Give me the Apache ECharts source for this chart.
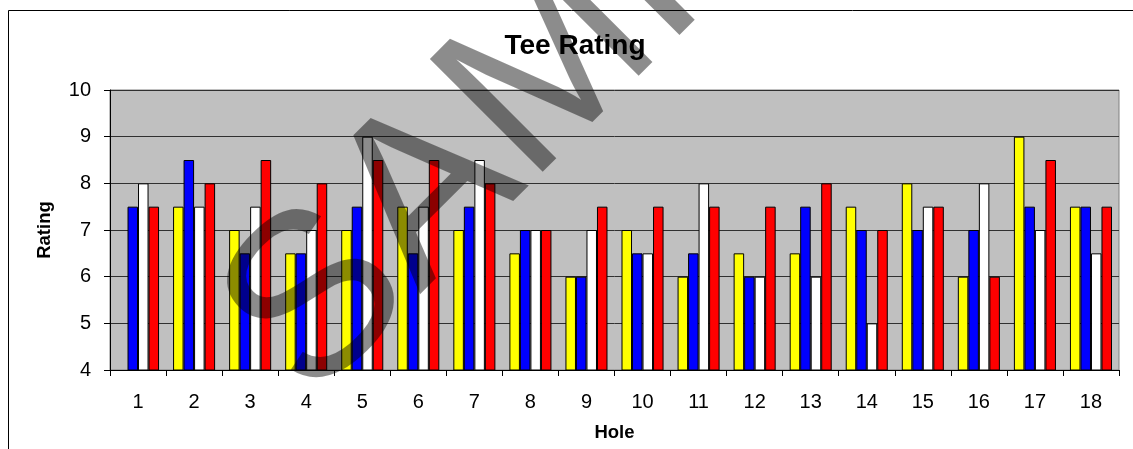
<!DOCTYPE html>
<html>
<head>
<meta charset="utf-8">
<script src="https://cdn.jsdelivr.net/npm/echarts@6/dist/echarts.min.js"></script>
<style>
  html, body { margin: 0; padding: 0; background: #fff; }
  #chart { width: 1133px; height: 449px; }
</style>
</head>
<body>
<div id="chart"></div>
<script>
// Tee ratings per hole, one array per tee colour
const holes = ['1','2','3','4','5','6','7','8','9','10','11','12','13','14','15','16','17','18'];
const yellowTee = [null, 7.5, 7, 6.5, 7, 7.5, 7, 6.5, 6, 7, 6, 6.5, 6.5, 7.5, 8, 6, 9, 7.5];
const blueTee   = [7.5, 8.5, 6.5, 6.5, 7.5, 6.5, 7.5, 7, 6, 6.5, 6.5, 6, 7.5, 7, 7, 7, 7.5, 7.5];
const whiteTee  = [8, 7.5, 7.5, 7, 9, 7.5, 8.5, 7, 7, 6.5, 8, 6, 6, 5, 7.5, 8, 7, 6.5];
const redTee    = [7.5, 8, 8.5, 8, 8.5, 8.5, 8, 7, 7.5, 7.5, 7.5, 7.5, 8, 7, 7.5, 6, 8.5, 7.5];
const yTicks = [4, 5, 6, 7, 8, 9, 10];

const FONT = 'Arial, "Liberation Sans", sans-serif';

function barSeries(name, data, color) {
  return {
    name: name,
    type: 'bar',
    data: data,
    barGap: '0%',
    barCategoryGap: '25%',
    itemStyle: { color: color, borderColor: '#000', borderWidth: 1 },
    emphasis: { disabled: true }
  };
}

const chart = echarts.init(document.getElementById('chart'), null, { renderer: 'canvas' });
chart.setOption({
  animation: false,
  backgroundColor: '#fff',
  title: {
    text: 'Tee Rating',
    left: 570,
    top: 27,
    textAlign: 'center',
    textStyle: { fontFamily: FONT, fontSize: 28, fontWeight: 'bold', color: '#000' }
  },
  grid: {
    left: 110, right: 14, top: 90, bottom: 79,
    show: true,
    backgroundColor: '#c0c0c0',
    borderColor: '#808080',
    borderWidth: 1
  },
  xAxis: {
    type: 'category',
    data: holes,
    name: 'Hole',
    nameLocation: 'middle',
    nameGap: 53,
    nameTextStyle: { fontFamily: FONT, fontSize: 18.5, fontWeight: 'bold', color: '#000' },
    axisLine: { lineStyle: { color: '#000', width: 1 } },
    axisTick: { show: true, length: 6, alignWithLabel: false, lineStyle: { color: '#000' } },
    axisLabel: { fontFamily: FONT, fontSize: 20, color: '#000', margin: 22 },
    splitLine: { show: false }
  },
  yAxis: {
    type: 'value',
    min: yTicks[0],
    max: yTicks[yTicks.length - 1],
    interval: 1,
    name: 'Rating',
    nameLocation: 'middle',
    nameGap: 56,
    nameRotate: 90,
    nameTextStyle: { fontFamily: FONT, fontSize: 18.5, fontWeight: 'bold', color: '#000' },
    axisLine: { show: true, lineStyle: { color: '#000', width: 1 } },
    axisTick: { show: true, inside: false, length: 6, lineStyle: { color: '#000' } },
    axisLabel: { fontFamily: FONT, fontSize: 20, color: '#000', margin: 19 },
    splitLine: { show: true, lineStyle: { color: '#303030', width: 1 } }
  },
  series: [
    barSeries('Yellow', yellowTee, '#ffff00'),
    barSeries('Blue', blueTee, '#0000ff'),
    barSeries('White', whiteTee, '#ffffff'),
    barSeries('Red', redTee, '#ff0000')
  ],
  graphic: [
    {
      type: 'rect',
      silent: true,
      z: 100,
      shape: { x: 8.5, y: 10.5, width: 1300, height: 600 },
      style: { fill: 'none', stroke: '#000', lineWidth: 1 }
    },
    {
      type: 'text',
      silent: true,
      z: 200,
      x: 598,
      y: 26,
      rotation: 45 * Math.PI / 180,
      style: {
        text: 'SAMPLE',
        font: 'normal 232px ' + FONT,
        fill: 'rgba(0,0,0,0.45)',
        align: 'center',
        verticalAlign: 'middle'
      }
    }
  ]
});
</script>
</body>
</html>
